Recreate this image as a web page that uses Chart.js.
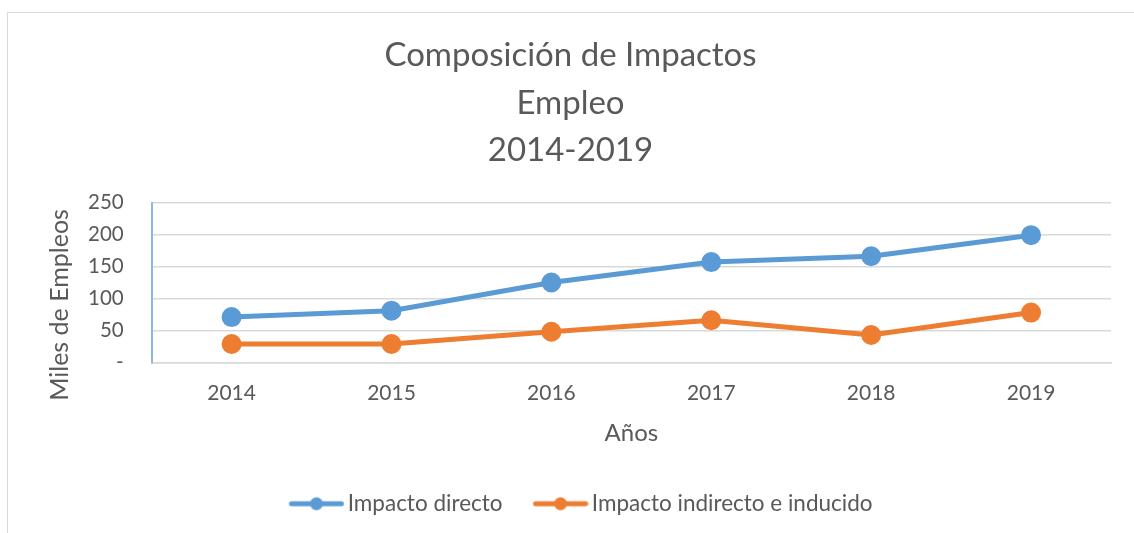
<!DOCTYPE html>
<html>
<head>
<meta charset="utf-8">
<script src="https://cdn.jsdelivr.net/npm/chart.js@4/dist/chart.umd.min.js"></script>
<style>
  html, body { margin: 0; padding: 0; background: #fff; }
  #frame { position: absolute; left: 7px; top: 12px; width: 1140px; height: 540px; border: 1px solid #d9d9d9; box-sizing: border-box; }
  #wrap { position: absolute; left: 0; top: 0; width: 1134px; height: 533px; }
</style>
</head>
<body>
<div id="frame"></div>
<div id="wrap"><canvas id="chart"></canvas></div>
<script>
const years = ['2014', '2015', '2016', '2017', '2018', '2019'];
const directo = [71, 81, 125, 157, 166, 199];
const indirecto = [29, 29, 48, 66, 43, 78];
const yTicks = [0, 50, 100, 150, 200, 250];
const titleLines = ['Composición de Impactos', 'Empleo', '2014-2019'];

const textColor = '#595959';
const fontFamily = 'Lato, "Open Sans", sans-serif';

// legend marker: short line with a dot, with blank room on the left
// so the gap before the previous label comes out right
function legendMarker(color) {
  const lead = 28;
  const c = document.createElement('canvas');
  c.width = 56 + lead; c.height = 16;
  const g = c.getContext('2d');
  g.strokeStyle = color;
  g.lineWidth = 5;
  g.lineCap = 'round';
  g.beginPath(); g.moveTo(lead + 3, 8); g.lineTo(lead + 53, 8); g.stroke();
  g.fillStyle = color;
  g.beginPath(); g.arc(lead + 28, 8, 6.5, 0, Math.PI * 2); g.fill();
  return c;
}

new Chart(document.getElementById('chart'), {
  type: 'line',
  data: {
    labels: years,
    datasets: [
      {
        label: 'Impacto directo',
        data: directo,
        borderColor: '#5b9bd5',
        backgroundColor: '#5b9bd5',
        borderWidth: 5,
        pointRadius: 7.5,
        pointHoverRadius: 7.5,
        tension: 0
      },
      {
        label: 'Impacto indirecto e inducido',
        data: indirecto,
        borderColor: '#ed7d31',
        backgroundColor: '#ed7d31',
        borderWidth: 5,
        pointRadius: 7.5,
        pointHoverRadius: 7.5,
        tension: 0
      }
    ]
  },
  options: {
    responsive: true,
    maintainAspectRatio: false,
    animation: false,
    layout: { padding: { left: 30, right: 23, top: 32, bottom: 8 } },
    plugins: {
      title: {
        display: true,
        text: titleLines,
        color: textColor,
        font: { family: fontFamily, size: 33, weight: 'normal', lineHeight: 1.44 },
        padding: { top: 0, bottom: 28 }
      },
      legend: {
        position: 'bottom',
        labels: {
          color: textColor,
          font: { family: fontFamily, size: 22.5 },
          usePointStyle: true,
          pointStyleWidth: 68,
          padding: 10,
          generateLabels: (chart) => {
            const items = Chart.defaults.plugins.legend.labels.generateLabels(chart);
            items.forEach((it, i) => {
              it.pointStyle = legendMarker(chart.data.datasets[i].borderColor);
            });
            return items;
          }
        }
      },
      tooltip: { enabled: false }
    },
    scales: {
      x: {
        offset: true,
        grid: { display: true, drawOnChartArea: false, drawTicks: true, tickLength: 14, tickColor: 'rgba(0,0,0,0)', color: 'rgba(0,0,0,0)' },
        border: { color: '#d9d9d9', width: 1.5 },
        ticks: { color: textColor, font: { family: fontFamily, size: 21 }, padding: 4 },
        title: { display: true, text: 'Años', color: textColor, font: { family: fontFamily, size: 24 }, padding: { top: 9, bottom: 35 } }
      },
      y: {
        min: 0,
        max: 250,
        afterBuildTicks: (axis) => { axis.ticks = yTicks.map(v => ({ value: v })); },
        grid: { color: '#d9d9d9', lineWidth: 1.5, drawTicks: true, tickLength: 24, tickColor: 'rgba(0,0,0,0)' },
        border: { color: '#8fb8e0', width: 2 },
        ticks: {
          color: textColor,
          font: { family: fontFamily, size: 20.5 },
          padding: 4,
          callback: (v) => v === 0 ? '-' : v
        },
        title: {
          display: true,
          // trailing blanks push the title down, as in the original
          text: 'Miles de Empleos' + '\u00a0'.repeat(7),
          color: textColor,
          font: { family: fontFamily, size: 25 },
          padding: { top: 15, bottom: 9 }
        }
      }
    }
  }
});
</script>
</body>
</html>
